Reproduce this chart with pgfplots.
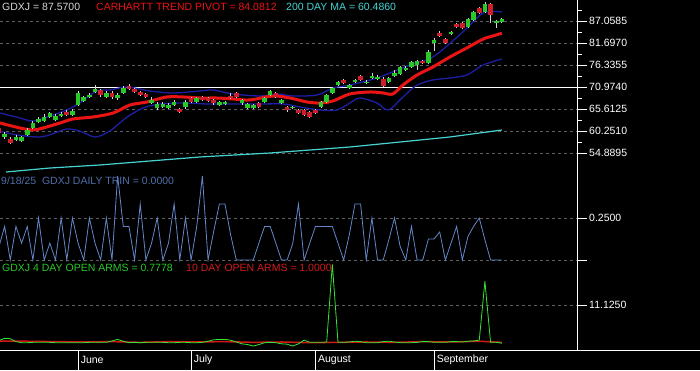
\documentclass[border=0pt]{standalone}
\usepackage{fontspec}
\setmainfont{Liberation Sans}
\usepackage{pgfplots}
\usepackage{pgfplotstable}
\pgfplotsset{compat=1.18}

\definecolor{cgreen}{RGB}{40,200,40}
\definecolor{cred}{RGB}{205,30,45}
\definecolor{pivot}{RGB}{235,20,20}
\definecolor{navyl}{RGB}{30,30,165}
\definecolor{cyanl}{RGB}{70,210,210}
\definecolor{trin}{RGB}{100,135,200}
\definecolor{trintxt}{RGB}{80,110,170}
\definecolor{armg}{RGB}{50,230,50}
\definecolor{armr}{RGB}{210,25,25}
\definecolor{gridc}{RGB}{95,95,95}
\definecolor{lgray}{RGB}{215,215,215}

\newcommand{\lbl}{\fontsize{10.5}{12}\selectfont}

% candles: index, open, close, high, low
\pgfplotstableread{
i o c h l
1 58.79 59.52 59.9 58.4
3 58.06 58.79 59.2 57.7
4 57.81 58.79 59.1 57.5
5 59.28 60.50 60.9 59.0
6 60.98 62.20 62.6 60.7
7 62.44 63.18 63.6 62.1
8 62.69 63.66 64.3 62.4
9 63.66 64.64 65.0 63.4
10 62.93 63.91 64.3 62.6
11 63.91 64.39 64.9 63.6
13 64.15 65.13 65.6 63.9
14 66.59 69.51 69.9 66.3
15 67.56 68.54 68.9 67.3
16 68.54 69.02 69.4 68.2
17 69.76 70.49 71.4 69.5
19 68.54 69.51 69.9 68.2
21 68.29 69.02 69.4 67.9
22 69.51 70.73 71.2 69.3
27 67.07 67.81 68.5 66.8
28 65.86 66.83 67.2 65.3
29 66.10 66.83 67.2 65.8
30 65.86 66.59 67.0 65.6
31 66.59 67.32 67.7 66.3
33 66.10 67.32 67.7 65.7
35 67.32 68.29 68.6 67.0
39 66.59 67.32 67.6 66.3
40 66.83 67.32 67.6 66.5
43 67.07 67.81 68.1 66.7
44 65.86 66.83 67.1 65.5
45 65.86 66.59 66.9 65.5
47 67.32 68.29 68.6 67.0
48 69.02 70.00 70.3 68.7
50 67.07 67.81 68.1 66.8
52 65.86 66.10 66.4 65.5
57 66.10 67.32 67.6 65.8
58 67.32 69.02 69.3 67.0
59 69.51 70.73 71.0 69.2
60 71.46 72.19 72.5 71.2
62 70.73 71.46 71.8 70.4
63 72.19 72.68 73.0 71.9
65 71.95 72.19 72.7 71.6
66 73.17 73.65 74.3 72.9
67 72.92 73.41 73.8 72.6
69 72.19 73.17 73.5 71.9
70 73.65 74.39 75.0 73.3
71 74.14 75.85 76.2 73.8
72 75.12 75.60 76.0 74.8
73 75.85 77.07 77.4 75.5
74 76.34 77.31 77.6 75.2
76 76.82 79.50 79.9 76.5
77 81.70 82.43 82.8 79.8
80 83.89 84.38 84.7 83.6
83 85.60 87.55 87.9 85.3
84 87.30 89.25 89.6 87.0
86 89.25 91.20 91.8 89.0
88 86.57 87.06 87.3 85.4
89 86.81 87.55 87.8 86.5
}\upC

\pgfplotstableread{
i o c h l
0 60.98 59.76 61.4 59.4
2 58.30 57.33 58.7 57.0
12 64.88 64.15 65.3 63.8
18 70.24 69.02 70.6 68.6
20 69.51 68.54 69.9 68.0
23 71.22 70.49 71.6 70.2
24 70.49 69.76 70.8 69.4
25 69.76 69.02 70.1 68.7
26 69.27 68.54 69.6 68.2
32 65.61 64.88 65.9 64.6
34 68.29 67.32 68.6 67.0
36 68.54 67.81 68.8 67.5
37 68.29 67.56 68.6 67.3
38 67.81 67.07 68.1 66.6
41 68.78 68.29 69.4 68.0
42 69.51 68.54 69.8 68.2
46 67.07 66.10 67.4 65.8
49 69.51 68.54 69.8 68.2
51 66.10 65.37 66.4 65.0
53 65.37 64.64 65.7 64.3
54 65.37 64.15 65.7 63.8
55 64.88 63.66 65.2 63.3
56 65.37 64.64 65.7 64.3
61 72.68 71.95 73.0 71.6
64 73.65 72.68 74.0 72.4
68 72.92 71.22 73.3 70.9
75 77.31 76.82 77.6 76.5
78 84.13 83.40 84.5 83.1
79 82.67 81.70 83.0 81.4
81 86.33 85.60 86.6 85.3
82 86.57 85.35 86.9 85.0
85 90.23 89.01 90.5 88.7
87 91.20 88.52 91.5 86.6
}\dnC

\pgfplotstableread{
i v
0 0.08
1 0.2
2 0
3 0.2
4 0.1
5 0.2
6 0
7 0.25
8 0
9 0.1
10 0
11 0.25
12 0
13 0.25
14 0.1
15 0
16 0.25
17 0.1
18 0
19 0.25
20 0
21 0.5
22 0.2
23 0.2
24 0
25 0.333
26 0
27 0.1
28 0.25
29 0
30 0.1
31 0.333
32 0
33 0.25
34 0
35 0.2
36 0.5
37 0
38 0.17
39 0.333
40 0.333
41 0.15
42 0
43 0
44 0
45 0
46 0.1
47 0.2
48 0.2
49 0.1
50 0
51 0
52 0.1
53 0.333
54 0
55 0.1
56 0.2
57 0.2
58 0.2
59 0.2
60 0.1
61 0
62 0.15
63 0.333
64 0.333
65 0
66 0.25
67 0
68 0
69 0.12
70 0.25
71 0.08
72 0
73 0.2
74 0
75 0
76 0.125
77 0.125
78 0.167
79 0
80 0.1
81 0.2
82 0
83 0.14
84 0.2
85 0.25
86 0.12
87 0
88 0
89 0
}\trinT

\pgfplotstableread{
i v
0 1.5
1 2.1
2 2.0
3 1.2
4 0.9
5 0.9
6 1.0
7 1.0
8 1.0
9 1.0
10 0.9
11 0.9
12 0.9
13 0.9
14 0.9
15 0.9
16 1.0
17 1.0
18 1.0
19 1.0
20 1.4
21 1.8
22 1.3
23 0.9
24 1.0
25 0.9
26 1.0
27 1.0
28 1.0
29 1.0
30 0.9
31 0.9
32 1.0
33 1.0
34 0.9
35 0.9
36 1.0
37 1.3
38 1.7
39 1.8
40 1.8
41 1.6
42 1.1
43 0.6
44 0.4
45 0.0
46 0.4
47 0.9
48 1.0
49 0.9
50 0.6
51 0.5
52 0.0
53 0.6
54 1.6
55 1.0
56 1.0
57 1.0
58 1.1
59 22.3
60 1.0
61 1.0
62 1.1
63 1.3
64 1.2
65 0.9
66 0.9
67 0.9
68 1.2
69 1.3
70 1.1
71 0.9
72 0.9
73 0.9
74 1.0
75 1.2
76 1.2
77 1.0
78 1.0
79 1.0
80 1.2
81 1.2
82 1.1
83 1.3
84 1.4
85 1.6
86 17.7
87 1.0
88 1.0
89 0.78
}\armsFour

\pgfplotstableread{
i v
0 1.3
5 1.3
10 1.2
15 1.1
20 1.2
25 1.0
30 1.2
35 1.1
40 1.2
45 1.0
50 1.1
55 0.9
60 1.0
65 1.1
70 1.0
75 1.2
80 1.1
85 1.3
89 1.0
}\armsTen

\pgfplotsset{
  panel/.style={
    scale only axis, width=577pt,
    xmin=0.18, xmax=102.3,
    axis x line=none, axis y line*=right,
    axis line style={white, line width=0.8pt},
    xtick=\empty,
    tick align=outside,
    major tick length=10pt, minor tick length=5pt,
    every tick/.style={white, line width=0.8pt},
    ymajorgrids,
    major grid style={gridc, dash pattern=on 3pt off 3pt, line width=0.5pt},
    yticklabel style={text=white, font=\lbl, inner sep=2pt},
  },
  candle/.style={quiver={u=0, v={\thisrow{c}-\thisrow{o}},
      every arrow/.append style={-, line width=4.6pt}}, line width=4.6pt, #1},
  wick/.style={quiver={u=0, v={\thisrow{h}-\thisrow{l}},
      every arrow/.append style={-, line width=0.8pt}}, line width=0.8pt, lgray},
}

\begin{document}
\begin{tikzpicture}[x=1pt,y=1pt]
\useasboundingbox (0,0) rectangle (700,370);
\fill[black] (0,0) rectangle (700,370);

% ---------- price panel ----------
\begin{axis}[panel, at={(0pt,196pt)}, anchor=south west, height=174pt,
  ymin=49.77, ymax=92.176,
  ytick={54.8895,60.251,65.6125,76.3355,81.697,87.0585},
  yticklabels={54.8895,60.2510,65.6125,76.3355,81.6970,87.0585},
  minor ytick={57.57025,62.93175,68.29325,73.65475,79.01625,84.37775,89.73925},
  extra y ticks={70.974}, extra y tick labels={70.9740},
  extra y tick style={ymajorgrids=true, major grid style={white, solid, line width=0.9pt}},
]
\addplot[cyanl, line width=1.2pt] coordinates {
 (1.24,50.26) (9.03,51.23) (17.9,51.97) (35.6,53.92) (48.0,54.89)
 (62.1,56.35) (71.0,57.57) (79.8,58.79) (89.0,60.49)};
\addplot[navyl, line width=1.3pt, smooth] coordinates {
 (0.18,60.2) (3.2,59.28) (7.3,58.79) (9.9,59.76) (12.0,60.74) (14.3,60.25)
 (17.0,58.79) (19.6,60.25) (22.7,63.66) (25.5,65.86) (28.5,66.83) (32.6,67.07)
 (36.8,66.83) (41.4,66.83) (46.2,66.83) (50.3,66.83) (53.3,66.10) (56.8,65.37)
 (59.8,65.37) (62.1,67.07) (63.9,68.29) (66.9,67.07) (68.9,65.37) (71.5,68.54)
 (74.0,71.46) (76.8,72.68) (79.8,73.17) (82.8,73.90) (85.7,76.34) (89.0,77.80)};
\addplot[navyl, line width=1.3pt, smooth] coordinates {
 (0.18,64.64) (3.72,63.42) (6.02,62.69) (9.03,63.91) (12.0,65.37) (14.3,67.07)
 (17.3,70.00) (19.6,70.24) (22.7,70.97) (26.7,70.00) (30.8,69.51) (35.6,70.00)
 (37.9,70.24) (41.4,69.27) (46.2,68.78) (49.2,69.27) (52.0,68.78) (56.3,69.02)
 (59.1,70.73) (62.1,71.46) (66.9,73.17) (72.7,76.34) (76.8,78.29) (82.1,84.38)
 (85.7,89.01) (89.0,89.25)};
\addplot[pivot, line width=3pt, smooth] coordinates {
 (0.18,62.20) (3.72,60.98) (6.02,60.50) (7.79,60.98) (10.8,62.20) (13.1,63.18)
 (16.6,63.66) (20.2,64.64) (23.2,66.59) (26.2,67.32) (29.7,68.54) (32.6,68.54)
 (35.6,68.29) (38.6,68.29) (41.4,68.05) (44.4,67.81) (48.5,68.78) (51.5,68.29)
 (54.5,67.32) (56.8,67.07) (59.1,67.56) (62.1,69.27) (65.7,69.76) (68.0,69.51)
 (69.7,69.27) (71.5,71.46) (74.0,73.90) (76.8,75.85) (79.8,78.29) (82.8,80.48)
 (85.7,82.67) (87.4,83.40) (89.0,84.08)};
% wicks
\addplot[wick] table[x=i, y=l] {\upC};
\addplot[wick] table[x=i, y=l] {\dnC};
% bodies
\addplot[candle=cgreen] table[x=i, y=o] {\upC};
\addplot[candle=cred] table[x=i, y=o] {\dnC};
\end{axis}

% ---------- TRIN panel ----------
\begin{axis}[panel, at={(0pt,109pt)}, anchor=south west, height=87pt,
  ymin=-0.006, ymax=0.512,
  ytick={0,0.25}, yticklabels={,0.2500},
]
\addplot[trin, line width=0.8pt] table[x=i, y=v] {\trinT};
\end{axis}

% ---------- Open ARMS panel ----------
\begin{axis}[panel, at={(0pt,24pt)}, anchor=south west, height=85pt,
  ymin=0, ymax=23.24,
  axis x line*=bottom,
  ytick={11.125}, yticklabels={11.1250},
]
\addplot[armr, line width=1.5pt] table[x=i, y=v] {\armsTen};
\addplot[armg, line width=0.8pt] table[x=i, y=v] {\armsFour};
\end{axis}

% ---------- date strip ----------
\begin{axis}[scale only axis, width=577pt, height=20pt, at={(0pt,0pt)}, anchor=south west,
  xmin=0.18, xmax=102.3, ymin=0, ymax=1, hide axis]
\foreach \m/\t in {14/June,34/July,56/August,77/September}{
  \edef\tmp{\noexpand\draw[white, line width=0.8pt] (axis cs:\m,0) -- (axis cs:\m,1);
    \noexpand\node[anchor=west, text=white, font=\noexpand\lbl, inner sep=2.5pt] at (axis cs:\m,0.5) {\t};}
  \tmp
}
\end{axis}

\draw[white, line width=0.8pt] (0,20) -- (700,20);
\draw[white, line width=0.8pt] (577,20) -- (577,370);

% ---------- titles ----------
\node[anchor=west, inner sep=0, text=lgray, font=\lbl] at (2,363) {GDXJ = 87.5700};
\node[anchor=west, inner sep=0, text=pivot, font=\lbl] at (96,363) {CARHARTT TREND PIVOT = 84.0812};
\node[anchor=west, inner sep=0, text=cyanl, font=\lbl] at (286,363) {200 DAY MA = 60.4860};
\node[anchor=west, inner sep=0, text=trintxt, font=\lbl] at (1,189) {9/18/25\ \ GDXJ DAILY TRIN = 0.0000};
\node[anchor=west, inner sep=0, text=cgreen, font=\lbl] at (2,102) {GDXJ 4 DAY OPEN ARMS = 0.7778};
\node[anchor=west, inner sep=0, text=armr, font=\lbl] at (186,102) {10 DAY OPEN ARMS = 1.0000};
\end{tikzpicture}
\end{document}
